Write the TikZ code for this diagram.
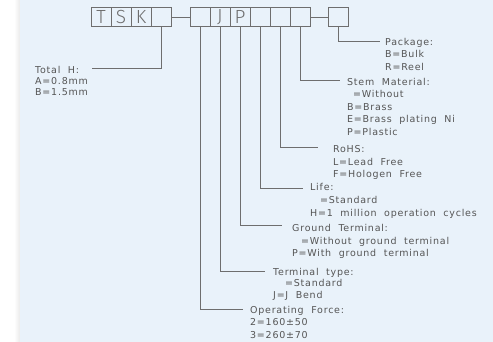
\documentclass[tikz,border=0pt]{standalone}
\usepackage{fontspec}
\newfontfamily\lblfont{DejaVu Sans}[LetterSpace=8,WordSpace=2]
\newfontfamily\boxfont{Fira Sans Light}
\definecolor{panel}{HTML}{E9F2FA}
\definecolor{ln}{HTML}{6E6E6E}
\definecolor{tx}{HTML}{555555}
\begin{document}
\begin{tikzpicture}[x=1pt,y=-1pt,
  cell/.style={draw=ln,line width=0.8pt,minimum width=20pt,minimum height=19.5pt,inner sep=0pt,
    font=\boxfont\fontsize{19}{19}\selectfont,text=ln},
  conn/.style={draw=ln,line width=0.8pt},
  txt/.style={anchor=west,inner sep=0pt,text height=6.9pt,text depth=0pt,
    font=\lblfont\fontsize{9.5}{11}\selectfont,text=tx}]
\useasboundingbox (0,0) rectangle (493,342);
\shade[left color=white,right color=black!8] (14,0) rectangle (20,342);
\fill[panel] (20,0) rectangle (493,342);
% boxes
\node[cell] (b1) at (101,17) {T};
\node[cell] (b2) at (121,17) {S};
\node[cell] (b3) at (141,17) {K};
\node[cell] (b4) at (161,17) {};
\node[cell] (c1) at (200,17) {};
\node[cell] (c2) at (220,17) {J};
\node[cell] (c3) at (240,17) {P};
\node[cell] (c4) at (260,17) {};
\node[cell] (c5) at (280,17) {};
\node[cell] (c6) at (300,17) {};
\node[cell] (p1) at (338,17) {};
\draw[conn] (b4.east) -- (c1.west);
\draw[conn] (c6.east) -- (p1.west);
% line ends
\coordinate (eTot) at (92,68.3);
\coordinate (ePkg) at (380,41);
\coordinate (eStem) at (340,80);
\coordinate (eRohs) at (318,147.7);
\coordinate (eLife) at (303,188.3);
\coordinate (eGnd) at (282,225);
\coordinate (eTerm) at (265,271);
\coordinate (eOp) at (243,309);
\draw[conn] (b4.south) |- (eTot);
\draw[conn] (p1.south) |- (ePkg);
\draw[conn] (c6.south) |- (eStem);
\draw[conn] (c5.south) |- (eRohs);
\draw[conn] (c4.south) |- (eLife);
\draw[conn] (c3.south) |- (eGnd);
\draw[conn] (c2.south) |- (eTerm);
\draw[conn] (c1.south) |- (eOp);
% texts
\node[txt] (t1) at (35,70) {Total H:};
\node[txt] (t2) at (35,81) {A=0.8mm};
\node[txt] (t3) at (35,92) {B=1.5mm};
\node[txt] (k1) at (385,42) {Package:};
\node[txt] (k2) at (385,54.5) {B=Bulk};
\node[txt] (k3) at (385,67) {R=Reel};
\node[txt] (s1) at (347,82) {Stem Material:};
\node[txt] (s2) at (353,94.5) {=Without};
\node[txt] (s3) at (347,107) {B=Brass};
\node[txt] (s4) at (347,119.5) {E=Brass plating Ni};
\node[txt] (s5) at (347,132) {P=Plastic};
\node[txt] (r1) at (333,149.3) {RoHS:};
\node[txt] (r2) at (333,161.7) {L=Lead Free};
\node[txt] (r3) at (333,174) {F=Hologen Free};
\node[txt] (l1) at (310,187.5) {Life:};
\node[txt] (l2) at (320,200) {=Standard};
\node[txt] (l3) at (310,213) {H=1 million operation cycles};
\node[txt] (g1) at (292,228) {Ground Terminal:};
\node[txt] (g2) at (301,241) {=Without ground terminal};
\node[txt] (g3) at (292,253) {P=With ground terminal};
\node[txt] (y1) at (273,272) {Terminal type:};
\node[txt] (y2) at (285,283.5) {=Standard};
\node[txt] (y3) at (273,295) {J=J Bend};
\node[txt] (o1) at (250,310) {Operating Force:};
\node[txt] (o2) at (250,322) {2=160±50};
\node[txt] (o3) at (250,335) {3=260±70};
\end{tikzpicture}
\end{document}
